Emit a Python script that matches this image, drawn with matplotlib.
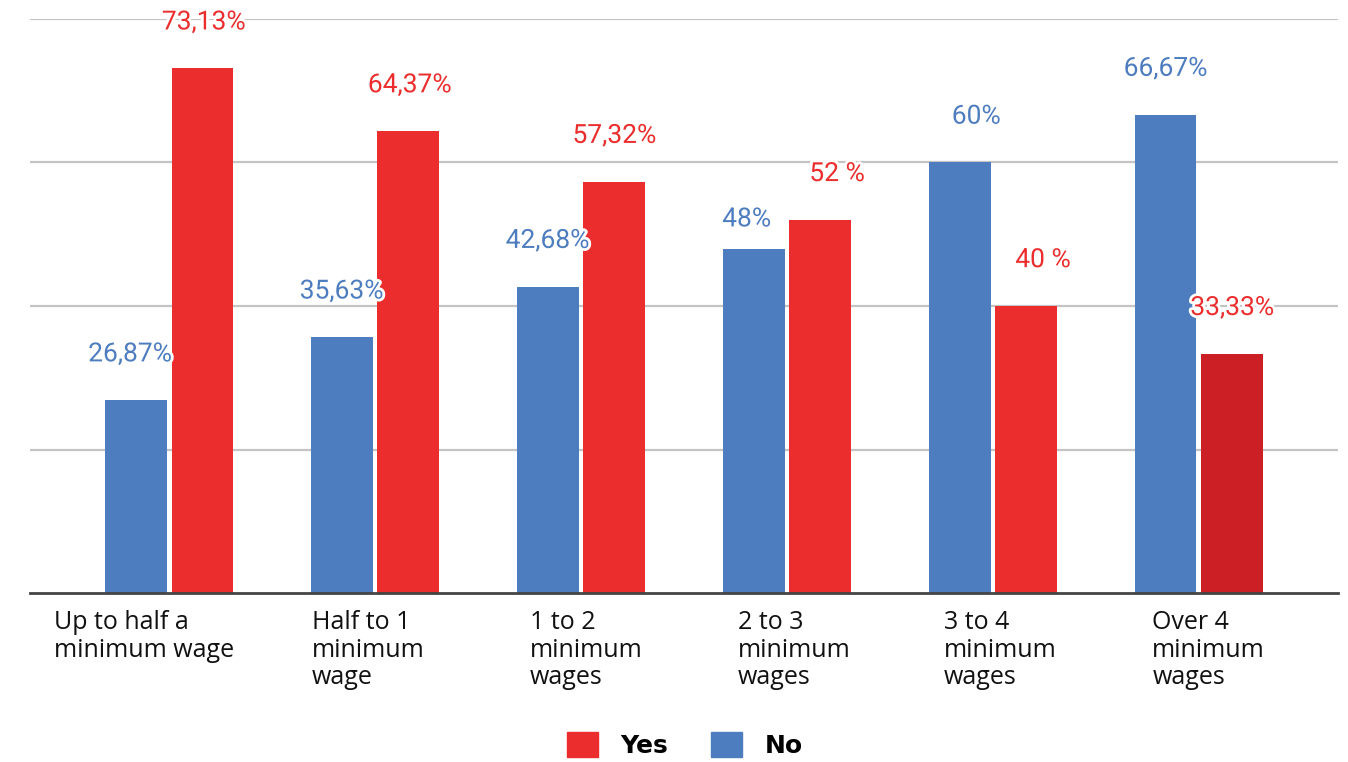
import matplotlib.pyplot as plt
import matplotlib.patheffects as pe
import matplotlib.transforms as mtransforms
import numpy as np
from matplotlib.patches import Patch

categories = [
    "Up to half a\nminimum wage",
    "Half to 1\nminimum\nwage",
    "1 to 2\nminimum\nwages",
    "2 to 3\nminimum\nwages",
    "3 to 4\nminimum\nwages",
    "Over 4\nminimum\nwages",
]
no_values = [26.87, 35.63, 42.68, 48, 60, 66.67]
yes_values = [73.13, 64.37, 57.32, 52, 40, 33.33]
no_labels = ["26,87%", "35,63%", "42,68%", "48%", "60%", "66,67%"]
yes_labels = ["73,13%", "64,37%", "57,32%", "52 %", "40 %", "33,33%"]

BLUE = "#4e7dbf"
RED = "#eb2d2d"
DARK_RED = "#cc1e25"

# label offsets from the bar top centre, in points (dx, dy)
no_nudge = [(-4, 33), (0, 33), (0, 33), (-5, 21), (12, 33), (0, 33)]
yes_nudge = [(1, 33), (1, 33), (0, 33), (12, 33), (12, 33), (0, 33)]
# horizontal shift of each category label, in points
tick_shift = [-18, -5, 4, 5, 5, 7]

plt.rcParams["font.family"] = ["Open Sans", "DejaVu Sans"]

fig = plt.figure(figsize=(13.48, 7.62), dpi=100)
ax = fig.add_axes([30 / 1348, 169 / 762, 1308 / 1348, 574 / 762])

x = np.arange(len(categories))
w = 0.30
off = 0.162
yes_colors = [RED] * (len(categories) - 1) + [DARK_RED]

ax.bar(x - off, no_values, width=w, color=BLUE, zorder=3)
ax.bar(x + off, yes_values, width=w, color=yes_colors, zorder=3)

halo = [pe.withStroke(linewidth=4, foreground="white")]
label_font = ["Roboto", "DejaVu Sans"]
for xi, v, s, d in zip(x, no_values, no_labels, no_nudge):
    ax.annotate(s, (xi - off, v), xytext=d, textcoords="offset points",
                ha="center", va="center", color=BLUE, fontsize=19,
                family=label_font, path_effects=halo, zorder=4)
for xi, v, s, d in zip(x, yes_values, yes_labels, yes_nudge):
    ax.annotate(s, (xi + off, v), xytext=d, textcoords="offset points",
                ha="center", va="center", color=RED, fontsize=19,
                family=label_font, path_effects=halo, zorder=4)

ax.set_xlim(-0.675, 5.675)
ax.set_ylim(0, 80)
ax.set_yticks([20, 40, 60, 80])
ax.yaxis.grid(True, color="#c4c4c4", lw=1.6, zorder=0)
ax.tick_params(axis="y", left=False, labelleft=False)
ax.tick_params(axis="x", bottom=False, pad=9)
ax.set_xticks(x)
ax.set_xticklabels(categories, multialignment="left", fontsize=18,
                   linespacing=1.12, color="#111111")
for lbl, dx in zip(ax.get_xticklabels(), tick_shift):
    shift = mtransforms.ScaledTranslation(dx / 72, 0, fig.dpi_scale_trans)
    lbl.set_transform(lbl.get_transform() + shift)
for sp in ["top", "right", "left"]:
    ax.spines[sp].set_visible(False)
ax.spines["bottom"].set_color("#444444")
ax.spines["bottom"].set_linewidth(2)
ax.spines["bottom"].set_zorder(5)

handles = [Patch(color=RED, label="Yes"), Patch(color=BLUE, label="No")]
fig.legend(handles=handles, loc="center", bbox_to_anchor=(0.508, 0.022),
           ncol=2, frameon=False, handlelength=1.25, handleheight=1.15,
           handletextpad=0.9, columnspacing=1.7,
           prop={"family": "DejaVu Sans", "weight": "bold", "size": 18})

fig.savefig("out.png", dpi=100, facecolor="white")
